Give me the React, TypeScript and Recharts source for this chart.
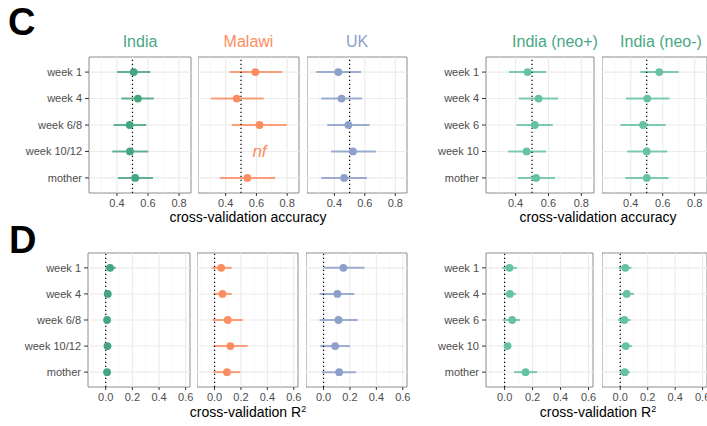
import React from "react";
import {
  ScatterChart,
  Scatter,
  XAxis,
  YAxis,
  ReferenceLine,
  ReferenceArea,
  ReferenceDot,
  ErrorBar,
} from "recharts";

// ---------- categories ----------
const rowsSite = ["week 1", "week 4", "week 6/8", "week 10/12", "mother"];
const rowsNeo = ["week 1", "week 4", "week 6", "week 10", "mother"];

// ---------- C: cross-validation accuracy ----------
const accIndia = [0.508, 0.535, 0.482, 0.484, 0.518];
const accIndiaLo = [0.4, 0.428, 0.378, 0.37, 0.406];
const accIndiaHi = [0.615, 0.637, 0.589, 0.602, 0.632];

const accMalawi = [0.593, 0.472, 0.62, null, 0.541];
const accMalawiLo = [0.426, 0.304, 0.439, null, 0.363];
const accMalawiHi = [0.767, 0.648, 0.798, null, 0.722];

const accUK = [0.426, 0.447, 0.492, 0.522, 0.464];
const accUKLo = [0.282, 0.314, 0.353, 0.379, 0.314];
const accUKHi = [0.575, 0.582, 0.631, 0.672, 0.614];

const accNeoPos = [0.473, 0.54, 0.517, 0.467, 0.525];
const accNeoPosLo = [0.36, 0.42, 0.406, 0.354, 0.414];
const accNeoPosHi = [0.586, 0.659, 0.626, 0.586, 0.64];

const accNeoNeg = [0.578, 0.503, 0.477, 0.5, 0.5];
const accNeoNegLo = [0.46, 0.37, 0.335, 0.378, 0.366];
const accNeoNegHi = [0.699, 0.642, 0.618, 0.628, 0.636];

// ---------- D: cross-validation R^2 ----------
const r2India = [0.033, 0.015, 0.01, 0.013, 0.01];
const r2IndiaLo = [0.0, 0.003, -0.003, -0.003, -0.005];
const r2IndiaHi = [0.075, 0.03, 0.025, 0.033, 0.03];

const r2Malawi = [0.05, 0.06, 0.1, 0.12, 0.094];
const r2MalawiLo = [-0.02, -0.008, -0.015, -0.008, -0.008];
const r2MalawiHi = [0.13, 0.13, 0.215, 0.25, 0.195];

const r2UK = [0.15, 0.105, 0.113, 0.088, 0.118];
const r2UKLo = [0.0, -0.03, -0.03, -0.025, -0.013];
const r2UKHi = [0.31, 0.233, 0.258, 0.2, 0.245];

const r2NeoPos = [0.035, 0.038, 0.054, 0.021, 0.15];
const r2NeoPosLo = [-0.016, -0.005, -0.012, 0.0, 0.068];
const r2NeoPosHi = [0.087, 0.082, 0.11, 0.047, 0.233];

const r2NeoNeg = [0.037, 0.047, 0.03, 0.04, 0.033];
const r2NeoNegLo = [-0.012, -0.005, -0.016, 0.0, -0.005];
const r2NeoNegHi = [0.082, 0.1, 0.075, 0.087, 0.07];

// ---------- axes ----------
const accDomain: [number, number] = [0.22, 0.877];
const accTicks = [0.4, 0.6, 0.8];
const accMinor = [0.3, 0.5, 0.7];
const accRef = 0.5;

const r2Domain: [number, number] = [-0.133, 0.632];
const r2Ticks = [0.0, 0.2, 0.4, 0.6];
const r2Minor = [-0.1, 0.1, 0.3, 0.5];
const r2Ref = 0;

const nfLabel = "nf";
const nfX = 0.62;

const GREEN_DARK = "#45a580";
const GREEN = "#66c2a5";
const ORANGE = "#fc8d62";
const BLUE = "#8da0cb";
const TITLE_GREEN = "#4aa784";

const FONT = "'Liberation Sans', Arial, Helvetica, sans-serif";
const Y_DOMAIN: [number, number] = [-0.57, 4.57];
const X_AXIS_H = 26;
const RIGHT_PAD = 14;

type PanelProps = {
  left: number;
  top: number;
  width: number;
  height: number;
  yW: number;
  labels: string[];
  est: (number | null)[];
  lo: (number | null)[];
  hi: (number | null)[];
  color: string;
  domain: [number, number];
  ticks: number[];
  minor: number[];
  refX: number;
  nfRow?: number;
};

function Panel(p: PanelProps) {
  const data = p.est
    .map((v, i) =>
      v == null
        ? null
        : { x: v, y: i, err: [v - (p.lo[i] as number), (p.hi[i] as number) - v] }
    )
    .filter(Boolean) as any[];
  const rowIdx = p.labels.map((_, i) => i);
  const color = p.color;
  return (
    <div style={{ position: "absolute", left: p.left - p.yW, top: p.top - 1 }}>
      <ScatterChart
        width={p.width + p.yW + RIGHT_PAD}
        height={p.height + 1 + X_AXIS_H}
        margin={{ top: 1, right: RIGHT_PAD, bottom: 0, left: 0 }}
      >
        <XAxis
          type="number"
          dataKey="x"
          domain={p.domain}
          ticks={p.ticks}
          allowDataOverflow
          interval={0}
          axisLine={false}
          tickLine={{ stroke: "#333333" }}
          tickSize={3}
          tickMargin={3}
          height={X_AXIS_H}
          tick={{ fontSize: 11, fill: "#4d4d4d" }}
          tickFormatter={(v: number) => v.toFixed(1)}
        />
        <YAxis
          type="number"
          dataKey="y"
          domain={Y_DOMAIN}
          ticks={rowIdx}
          reversed
          allowDataOverflow
          interval={0}
          hide={p.yW === 0}
          width={p.yW}
          axisLine={false}
          tickLine={{ stroke: "#333333" }}
          tickSize={4}
          tickMargin={3}
          tick={{ fontSize: 11, fill: "#4d4d4d" }}
          tickFormatter={(v: number) => p.labels[v] ?? ""}
        />
        {p.minor.map((m) => (
          <ReferenceLine key={"mn" + m} x={m} stroke="#f2f2f2" strokeWidth={0.6} />
        ))}
        {p.ticks.map((m) => (
          <ReferenceLine key={"mj" + m} x={m} stroke="#ebebeb" strokeWidth={1.1} />
        ))}
        {rowIdx.map((r) => (
          <ReferenceLine key={"row" + r} y={r} stroke="#ebebeb" strokeWidth={1.1} />
        ))}
        <Scatter
          data={data}
          isAnimationActive={false}
          fill={color}
          shape={(s: any) => <circle cx={s.cx} cy={s.cy} r={3.9} fill={color} />}
        >
          <ErrorBar
            dataKey="err"
            direction="x"
            width={0}
            stroke={color}
            strokeWidth={2}
            strokeOpacity={0.85}
            isAnimationActive={false}
          />
        </Scatter>
        <ReferenceLine
          x={p.refX}
          stroke="#000000"
          strokeWidth={1.2}
          strokeDasharray="1.3 2.7"
        />
        {p.nfRow != null && (
          <ReferenceDot
            x={nfX}
            y={p.nfRow}
            r={0}
            fill="none"
            stroke="none"
            label={{
              value: nfLabel,
              position: "center",
              fill: ORANGE,
              fontSize: 17,
              fontStyle: "italic",
            }}
          />
        )}
        <ReferenceArea
          x1={p.domain[0]}
          x2={p.domain[1]}
          y1={Y_DOMAIN[0]}
          y2={Y_DOMAIN[1]}
          fill="none"
          fillOpacity={0}
          stroke="#8c8c8c"
          strokeWidth={1}
        />
      </ScatterChart>
    </div>
  );
}

function Title({ text, left, width, color }: { text: string; left: number; width: number; color: string }) {
  return (
    <div
      style={{
        position: "absolute",
        left,
        width,
        top: 33,
        textAlign: "center",
        fontSize: 16,
        lineHeight: "18px",
        color,
        whiteSpace: "nowrap",
      }}
    >
      {text}
    </div>
  );
}

function AxisTitle({ center, top, children }: { center: number; top: number; children: React.ReactNode }) {
  return (
    <div
      style={{
        position: "absolute",
        left: center - 120,
        width: 240,
        top,
        textAlign: "center",
        fontSize: 14,
        lineHeight: "16px",
        color: "#000",
        whiteSpace: "nowrap",
      }}
    >
      {children}
    </div>
  );
}

export default function App() {
  const C_TOP = 57;
  const C_H = 136;
  const D_TOP = 253;
  const D_H = 134;
  return (
    <div
      style={{
        position: "absolute",
        left: 0,
        top: 0,
        width: 707,
        height: 426,
        overflow: "hidden",
        background: "#ffffff",
        fontFamily: FONT,
      }}
    >
      <div style={{ position: "absolute", left: 8, top: 2, fontSize: 38, lineHeight: "40px", fontWeight: "bold" }}>C</div>
      <div style={{ position: "absolute", left: 9, top: 220, fontSize: 38, lineHeight: "40px", fontWeight: "bold" }}>D</div>

      <Title text="India" left={89} width={102} color={TITLE_GREEN} />
      <Title text="Malawi" left={198} width={101} color={ORANGE} />
      <Title text="UK" left={307} width={100} color={BLUE} />
      <Title text="India (neo+)" left={512} width={86} color={TITLE_GREEN} />
      <Title text="India (neo-)" left={619} width={84} color={TITLE_GREEN} />

      {/* C row */}
      <Panel left={89} top={C_TOP} width={102} height={C_H} yW={89} labels={rowsSite}
        est={accIndia} lo={accIndiaLo} hi={accIndiaHi} color={GREEN_DARK}
        domain={accDomain} ticks={accTicks} minor={accMinor} refX={accRef} />
      <Panel left={198} top={C_TOP} width={101} height={C_H} yW={0} labels={rowsSite}
        est={accMalawi} lo={accMalawiLo} hi={accMalawiHi} color={ORANGE}
        domain={accDomain} ticks={accTicks} minor={accMinor} refX={accRef} nfRow={3} />
      <Panel left={307} top={C_TOP} width={100} height={C_H} yW={0} labels={rowsSite}
        est={accUK} lo={accUKLo} hi={accUKHi} color={BLUE}
        domain={accDomain} ticks={accTicks} minor={accMinor} refX={accRef} />
      <Panel left={486} top={C_TOP} width={108} height={C_H} yW={80} labels={rowsNeo}
        est={accNeoPos} lo={accNeoPosLo} hi={accNeoPosHi} color={GREEN}
        domain={accDomain} ticks={accTicks} minor={accMinor} refX={accRef} />
      <Panel left={602} top={C_TOP} width={105} height={C_H} yW={0} labels={rowsNeo}
        est={accNeoNeg} lo={accNeoNegLo} hi={accNeoNegHi} color={GREEN}
        domain={accDomain} ticks={accTicks} minor={accMinor} refX={accRef} />

      <AxisTitle center={248} top={209}>cross-validation accuracy</AxisTitle>
      <AxisTitle center={598} top={209}>cross-validation accuracy</AxisTitle>

      {/* D row */}
      <Panel left={88} top={D_TOP} width={102} height={D_H} yW={88} labels={rowsSite}
        est={r2India} lo={r2IndiaLo} hi={r2IndiaHi} color={GREEN_DARK}
        domain={r2Domain} ticks={r2Ticks} minor={r2Minor} refX={r2Ref} />
      <Panel left={197} top={D_TOP} width={101} height={D_H} yW={0} labels={rowsSite}
        est={r2Malawi} lo={r2MalawiLo} hi={r2MalawiHi} color={ORANGE}
        domain={r2Domain} ticks={r2Ticks} minor={r2Minor} refX={r2Ref} />
      <Panel left={306} top={D_TOP} width={101} height={D_H} yW={0} labels={rowsSite}
        est={r2UK} lo={r2UKLo} hi={r2UKHi} color={BLUE}
        domain={r2Domain} ticks={r2Ticks} minor={r2Minor} refX={r2Ref} />
      <Panel left={486} top={D_TOP} width={107} height={D_H} yW={80} labels={rowsNeo}
        est={r2NeoPos} lo={r2NeoPosLo} hi={r2NeoPosHi} color={GREEN}
        domain={r2Domain} ticks={r2Ticks} minor={r2Minor} refX={r2Ref} />
      <Panel left={602} top={D_TOP} width={105} height={D_H} yW={0} labels={rowsNeo}
        est={r2NeoNeg} lo={r2NeoNegLo} hi={r2NeoNegHi} color={GREEN}
        domain={r2Domain} ticks={r2Ticks} minor={r2Minor} refX={r2Ref} />

      <AxisTitle center={248} top={404}>
        cross-validation R<sup style={{ fontSize: 9, verticalAlign: "5px", lineHeight: 0 }}>2</sup>
      </AxisTitle>
      <AxisTitle center={598} top={404}>
        cross-validation R<sup style={{ fontSize: 9, verticalAlign: "5px", lineHeight: 0 }}>2</sup>
      </AxisTitle>
    </div>
  );
}
